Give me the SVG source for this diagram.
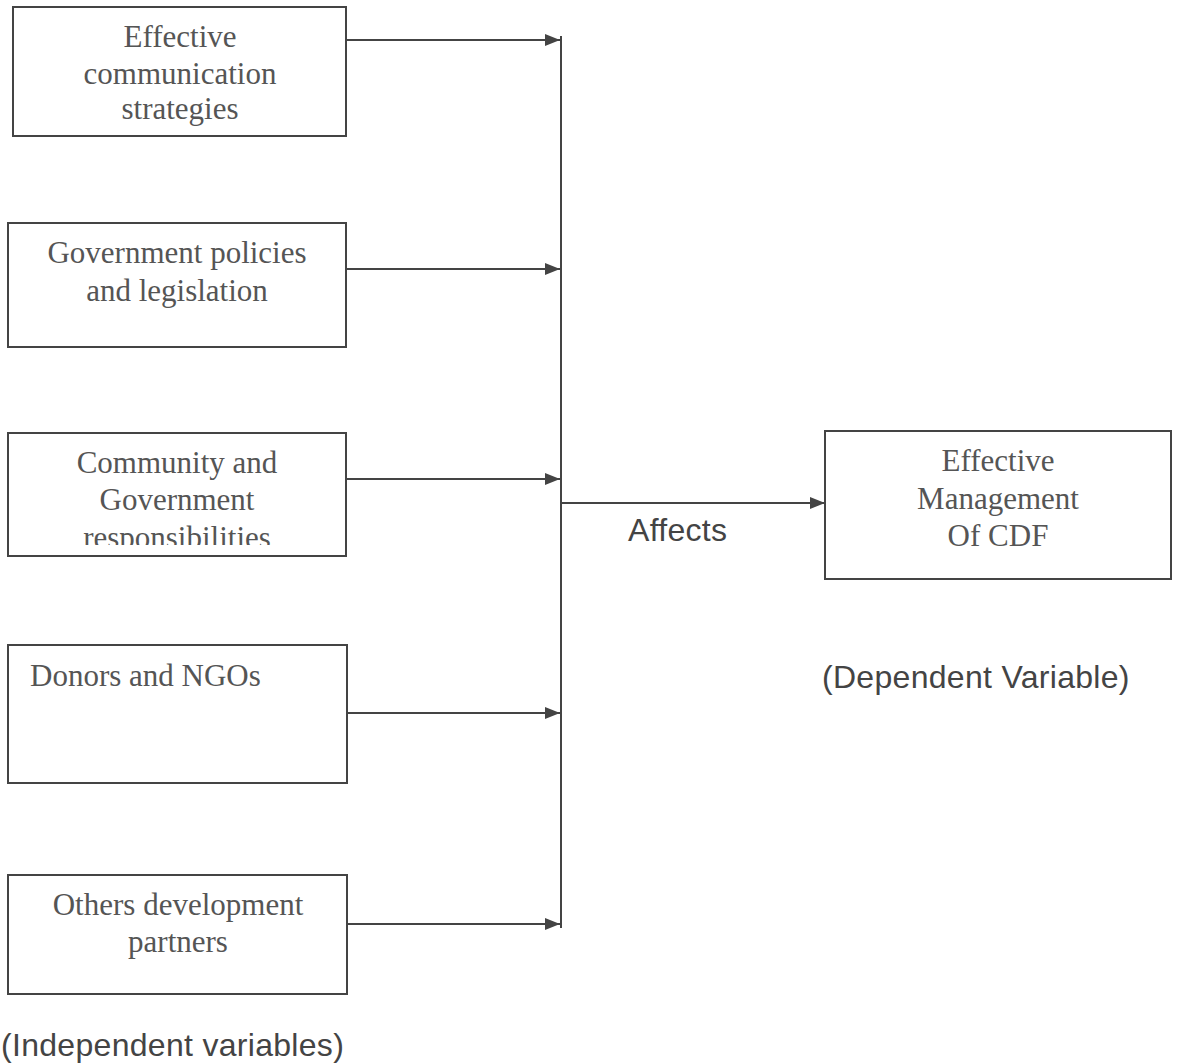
<svg xmlns="http://www.w3.org/2000/svg" width="1178" height="1064" viewBox="0 0 1178 1064">
<style>
.box{fill:#fff;stroke:#444;stroke-width:2}
.t{font-family:"Liberation Serif","Times New Roman",serif;font-size:31px;fill:#555;text-anchor:middle}
.s{font-family:"Liberation Sans",Arial,sans-serif;font-size:32px;fill:#444;letter-spacing:0.3px}
.c{stroke:#444;stroke-width:2;fill:none}
</style>
<defs>
<marker id="ah" viewBox="0 0 15 12" refX="15" refY="6" markerWidth="15" markerHeight="12" markerUnits="userSpaceOnUse" orient="auto">
<path d="M0,0 L15,6 L0,12 z" fill="#444"/>
</marker>
<clipPath id="clip3"><rect x="8" y="433" width="338" height="112"/></clipPath>
</defs>
<rect width="1178" height="1064" fill="#fff"/>
<g id="n1">
<rect class="box" x="13" y="7" width="333" height="129"/>
<text class="t" x="180" y="47">Effective</text>
<text class="t" x="180" y="84">communication</text>
<text class="t" x="180" y="119">strategies</text>
</g>
<g id="n2">
<rect class="box" x="8" y="223" width="338" height="124"/>
<text class="t" x="177" y="263">Government policies</text>
<text class="t" x="177" y="301">and legislation</text>
</g>
<g id="n3">
<rect class="box" x="8" y="433" width="338" height="123"/>
<g clip-path="url(#clip3)">
<text class="t" x="177" y="473">Community and</text>
<text class="t" x="177" y="510">Government</text>
<text class="t" x="177" y="548">responsibilities</text>
</g>
</g>
<g id="n4">
<rect class="box" x="8" y="645" width="339" height="138"/>
<text class="t" x="30" y="686" style="text-anchor:start">Donors and NGOs</text>
</g>
<g id="n5">
<rect class="box" x="8" y="875" width="339" height="119"/>
<text class="t" x="178" y="915">Others development</text>
<text class="t" x="178" y="952">partners</text>
</g>
<g id="n6">
<rect class="box" x="825" y="431" width="346" height="148"/>
<text class="t" x="998" y="471">Effective</text>
<text class="t" x="998" y="509">Management</text>
<text class="t" x="998" y="546">Of CDF</text>
</g>
<g id="labels">
<text class="s" x="628" y="541">Affects</text>
<text class="s" x="822" y="688">(Dependent Variable)</text>
<text class="s" x="1" y="1056">(Independent variables)</text>
</g>
<g id="connectors">
<line class="c" x1="561" y1="36" x2="561" y2="928"/>
<line class="c" x1="346" y1="40" x2="560" y2="40" marker-end="url(#ah)"/>
<line class="c" x1="346" y1="269" x2="560" y2="269" marker-end="url(#ah)"/>
<line class="c" x1="346" y1="479" x2="560" y2="479" marker-end="url(#ah)"/>
<line class="c" x1="347" y1="713" x2="560" y2="713" marker-end="url(#ah)"/>
<line class="c" x1="347" y1="924" x2="560" y2="924" marker-end="url(#ah)"/>
<line class="c" x1="561" y1="503" x2="825" y2="503" marker-end="url(#ah)"/>
</g>
</svg>
